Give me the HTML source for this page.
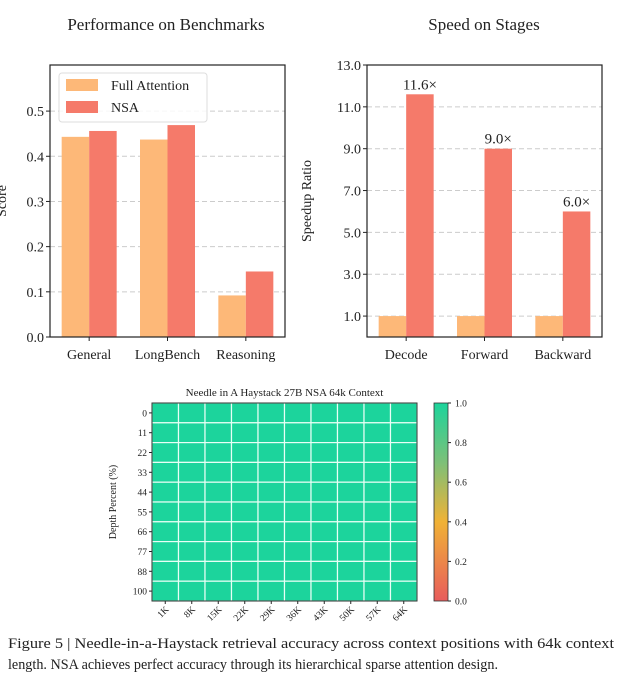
<!DOCTYPE html>
<html><head><meta charset="utf-8"><style>
body{margin:0;background:#fff}
svg{display:block;font-family:"Liberation Serif",serif}
</style></head><body>
<svg id="s" width="622" height="680" viewBox="0 0 622 680">
<defs><linearGradient id="cb" x1="0" y1="1" x2="0" y2="0">
<stop offset="0" stop-color="#e85c5c"/><stop offset="0.4" stop-color="#f0b236"/><stop offset="0.7" stop-color="#7dc078"/><stop offset="1" stop-color="#1cd49c"/></linearGradient></defs>
<text x="166" y="30" font-size="17" text-anchor="middle" fill="#222">Performance on Benchmarks</text>
<text x="484" y="30" font-size="17" text-anchor="middle" fill="#222">Speed on Stages</text>
<g id="left"></g>
<g id="right"></g>
<g id="heat"></g>
<text x="8" y="648" font-size="15" fill="#222" textLength="606" lengthAdjust="spacingAndGlyphs">Figure 5 | Needle-in-a-Haystack retrieval accuracy across context positions with 64k context</text>
<text x="8" y="669" font-size="15" fill="#222" textLength="490" lengthAdjust="spacingAndGlyphs">length. NSA achieves perfect accuracy through its hierarchical sparse attention design.</text>
</svg>
<script>
const benchCats=["General","LongBench","Reasoning"];
const benchFull=[0.443,0.437,0.092];
const benchNSA=[0.456,0.469,0.145];
const benchTicks=[0.0,0.1,0.2,0.3,0.4,0.5];
const stageCats=["Decode","Forward","Backward"];
const stageFull=[1.0,1.0,1.0];
const stageNSA=[11.6,9.0,6.0];
const stageTicks=[1.0,3.0,5.0,7.0,9.0,11.0,13.0];
const depths=[0,11,22,33,44,55,66,77,88,100];
const ctxLabels=["1K","8K","15K","22K","29K","36K","43K","50K","57K","64K"];
const accuracy=[
[1,1,1,1,1,1,1,1,1,1],[1,1,1,1,1,1,1,1,1,1],[1,1,1,1,1,1,1,1,1,1],[1,1,1,1,1,1,1,1,1,1],[1,1,1,1,1,1,1,1,1,1],
[1,1,1,1,1,1,1,1,1,1],[1,1,1,1,1,1,1,1,1,1],[1,1,1,1,1,1,1,1,1,1],[1,1,1,1,1,1,1,1,1,1],[1,1,1,1,1,1,1,1,1,1]];
const cbTicks=[0.0,0.2,0.4,0.6,0.8,1.0];
const NS="http://www.w3.org/2000/svg";
function mk(p,t,a,txt){const e=document.createElementNS(NS,t);for(const k in a)e.setAttribute(k,a[k]);if(txt!=null)e.textContent=txt;p.appendChild(e);return e;}
const FA="#fdb878",NSAc="#f57a6a";
function barChart(g,x0,x1,yT,yB,ymax,cats,s1,s2,ticks,fmt,ylab,labels,bw,prefix){
  const y=v=>yB-(v/ymax)*(yB-yT);
  const step=(x1-x0)/cats.length;
  const cx=i=>x0+step*(i+0.5);
  ticks.forEach(t=>{
    if(t>0&&t<ymax){const l=mk(g,"line",{x1:x0,x2:x1,y1:y(t),y2:y(t),stroke:"#ccc","stroke-dasharray":"5,3"});
    }
    const tk=mk(g,"line",{x1:x0-4,x2:x0,y1:y(t),y2:y(t),stroke:"#222"});
    const tl=mk(g,"text",{x:x0-6,y:y(t)+5,"font-size":14,"text-anchor":"end",fill:"#222"},fmt(t));
    
  });
  cats.forEach((c,i)=>{
    const b1=mk(g,"rect",{x:cx(i)-bw,y:y(s1[i]),width:bw,height:yB-y(s1[i]),fill:FA});
    
    const b2=mk(g,"rect",{x:cx(i),y:y(s2[i]),width:bw,height:yB-y(s2[i]),fill:NSAc});
    
    if(labels){const t=mk(g,"text",{x:cx(i)+bw/2,y:y(s2[i])-5,"font-size":15,"text-anchor":"middle",fill:"#222"},s2[i].toFixed(1)+"×");
      }
    mk(g,"line",{x1:cx(i),x2:cx(i),y1:yB,y2:yB+4,stroke:"#222"});
    const xl=mk(g,"text",{x:cx(i),y:yB+22,"font-size":14,"text-anchor":"middle",fill:"#222"},c);
    
  });
  mk(g,"rect",{x:x0,y:yT,width:x1-x0,height:yB-yT,fill:"none",stroke:"#222","stroke-width":1.2});
  const yl=mk(g,"text",{x:0,y:0,"font-size":14,"text-anchor":"middle",fill:"#222",transform:`translate(${ylab},${(yT+yB)/2}) rotate(-90)`},prefix==="bench"?"Score":"Speedup Ratio");
  
}
const L=document.getElementById("left");
barChart(L,50,285,65,337,0.602,benchCats,benchFull,benchNSA,benchTicks,t=>t.toFixed(1),6,false,27.5,"bench");
const lg=mk(L,"g",{});
mk(lg,"rect",{x:59,y:73,width:148,height:49,fill:"#fff","fill-opacity":0.85,stroke:"#ddd",rx:3});
const le1=mk(lg,"rect",{x:66,y:79,width:32,height:12,fill:FA});
mk(lg,"text",{x:111,y:90,"font-size":14,fill:"#222"},"Full Attention");
const le2=mk(lg,"rect",{x:66,y:101,width:32,height:12,fill:NSAc});
mk(lg,"text",{x:111,y:112,"font-size":14,fill:"#222"},"NSA");
const R=document.getElementById("right");
barChart(R,367,602,65,337,13,stageCats,stageFull,stageNSA,stageTicks,t=>t.toFixed(1),311,true,27.5,"stage");

const H=document.getElementById("heat");
const hx0=152,hx1=417,hy0=403,hy1=601;
const cw=(hx1-hx0)/ctxLabels.length,ch=(hy1-hy0)/depths.length;
function colorOf(v){ // simple map along gradient
  const stops=[[0,[232,92,92]],[0.4,[240,178,54]],[0.7,[125,192,120]],[1,[28,212,156]]];
  for(let i=1;i<stops.length;i++){if(v<=stops[i][0]){const a=stops[i-1],b=stops[i],t=(v-a[0])/(b[0]-a[0]);return `rgb(${a[1].map((c,k)=>Math.round(c+(b[1][k]-c)*t)).join(",")})`;}}
  return "rgb(28,212,156)";
}
mk(H,"text",{x:(hx0+hx1)/2,y:396,"font-size":11,"text-anchor":"middle",fill:"#222"},"Needle in A Haystack 27B NSA 64k Context");
depths.forEach((d,r)=>{
  ctxLabels.forEach((c,j)=>{
    const cell=mk(H,"rect",{x:hx0+j*cw,y:hy0+r*ch,width:cw,height:ch,fill:colorOf(accuracy[r][j]),stroke:"#e8fff6","stroke-width":1.2});
    
  });
  mk(H,"line",{x1:hx0-3,x2:hx0,y1:hy0+(r+0.5)*ch,y2:hy0+(r+0.5)*ch,stroke:"#222"});
  const t=mk(H,"text",{x:hx0-5,y:hy0+(r+0.5)*ch+3.5,"font-size":9.5,"text-anchor":"end",fill:"#222"},d);
  
});
ctxLabels.forEach((c,j)=>{
  const x=hx0+(j+0.5)*cw;
  mk(H,"line",{x1:x,x2:x,y1:hy1,y2:hy1+3,stroke:"#222"});
  const t=mk(H,"text",{x:0,y:0,"font-size":9.5,"text-anchor":"end",fill:"#222",transform:`translate(${x+4},${hy1+9}) rotate(-45)`},c);
  
});
mk(H,"rect",{x:hx0,y:hy0,width:hx1-hx0,height:hy1-hy0,fill:"none",stroke:"#333"});
const yt=mk(H,"text",{x:0,y:0,"font-size":10,"text-anchor":"middle",fill:"#222",transform:`translate(116,${(hy0+hy1)/2}) rotate(-90)`},"Depth Percent (%)");

const cb=mk(H,"rect",{x:434,y:hy0,width:14,height:hy1-hy0,fill:"url(#cb)",stroke:"#333","stroke-width":0.8});

cbTicks.forEach(v=>{const y=hy1-v*(hy1-hy0);
  mk(H,"line",{x1:448,x2:451,y1:y,y2:y,stroke:"#222"});
  const t=mk(H,"text",{x:455,y:y+3.5,"font-size":9.5,fill:"#222"},v.toFixed(1));
  });
</script>
</body></html>
